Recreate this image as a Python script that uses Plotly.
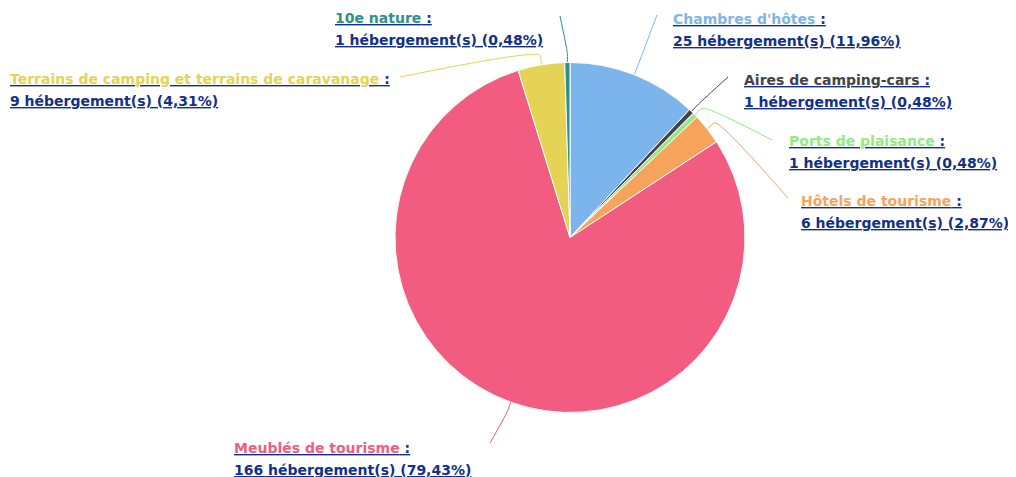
import math
import plotly.graph_objects as go

categories = ["Chambres d'hôtes", "Aires de camping-cars", "Ports de plaisance",
              "Hôtels de tourisme", "Meublés de tourisme",
              "Terrains de camping et terrains de caravanage", "10e nature"]
values = [25, 1, 1, 6, 166, 9, 1]
colors = ["#7cb5ec", "#434348", "#90ed7d", "#f7a35c", "#f15c80", "#e4d354", "#2b908f"]

# label placement (left edge x, first-line centre y) and connector end point
label_pos = {
    "Chambres d'hôtes": (671, 19, 657, 15),
    "Aires de camping-cars": (742, 80, 728, 77),
    "Ports de plaisance": (787, 141, 772, 140),
    "Hôtels de tourisme": (799, 201, 788, 198),
    "Meublés de tourisme": (232, 448, 490, 443),
    "Terrains de camping et terrains de caravanage": (8, 79, 400, 77),
    "10e nature": (333, 18, 560, 16),
}

OFF = 8  # page offset of the figure inside the window
W, H = 1016 - 2 * OFF, 477 - OFF
CX, CY, R = 570, 237.5, 175
NAVY = "#12308a"
FONT = "DejaVu Sans"

fig = go.Figure()
fig.add_trace(go.Pie(
    labels=categories, values=values, sort=False, direction="clockwise",
    rotation=0, marker=dict(colors=colors, line=dict(color="white", width=1)),
    textinfo="none", hoverinfo="label+value+percent", showlegend=False,
    domain=dict(x=[(CX - OFF - R) / W, (CX - OFF + R) / W],
                y=[(H - (CY - OFF) - R) / H, (H - (CY - OFF) + R) / H]),
))

total = sum(values)
cum = 0
annotations = []
for cat, v, col in zip(categories, values, colors):
    mid = (cum + v / 2) / total * 2 * math.pi
    cum += v
    sx, sy = math.sin(mid), -math.cos(mid)
    ex, ey = CX + R * sx, CY + R * sy
    bx, by = CX + (R + 10) * sx, CY + (R + 10) * sy
    lx, ly, tx, ty = label_pos[cat]
    fig.add_trace(go.Scatter(
        x=[ex, bx, tx], y=[ey, by, ty], mode="lines",
        line=dict(color=col, width=1, shape="spline", smoothing=0.6),
        hoverinfo="skip", showlegend=False, xaxis="x", yaxis="y"))
    pct = f"{v / total * 100:.2f}".replace(".", ",")
    line1 = f"<b><u><span style='color:{col}'>{cat}</span> :</u></b>"
    line2 = f"<b><u>{v} hébergement(s) ({pct}%)</u></b>"
    for txt, yy in ((line1, ly), (line2, ly + 21.5)):
        annotations.append(dict(
            x=lx, y=yy, xref="x", yref="y", text=txt, showarrow=False,
            xanchor="left", yanchor="middle", align="left",
            font=dict(family=FONT, size=14, color=NAVY)))

fig.update_layout(
    width=W, height=H, margin=dict(l=0, r=0, t=0, b=0),
    paper_bgcolor="white", plot_bgcolor="rgba(0,0,0,0)",
    xaxis=dict(range=[OFF, OFF + W], visible=False, domain=[0, 1], fixedrange=True),
    yaxis=dict(range=[OFF + H, OFF], visible=False, domain=[0, 1], fixedrange=True),
    annotations=annotations,
)
fig.write_html("out.html")
